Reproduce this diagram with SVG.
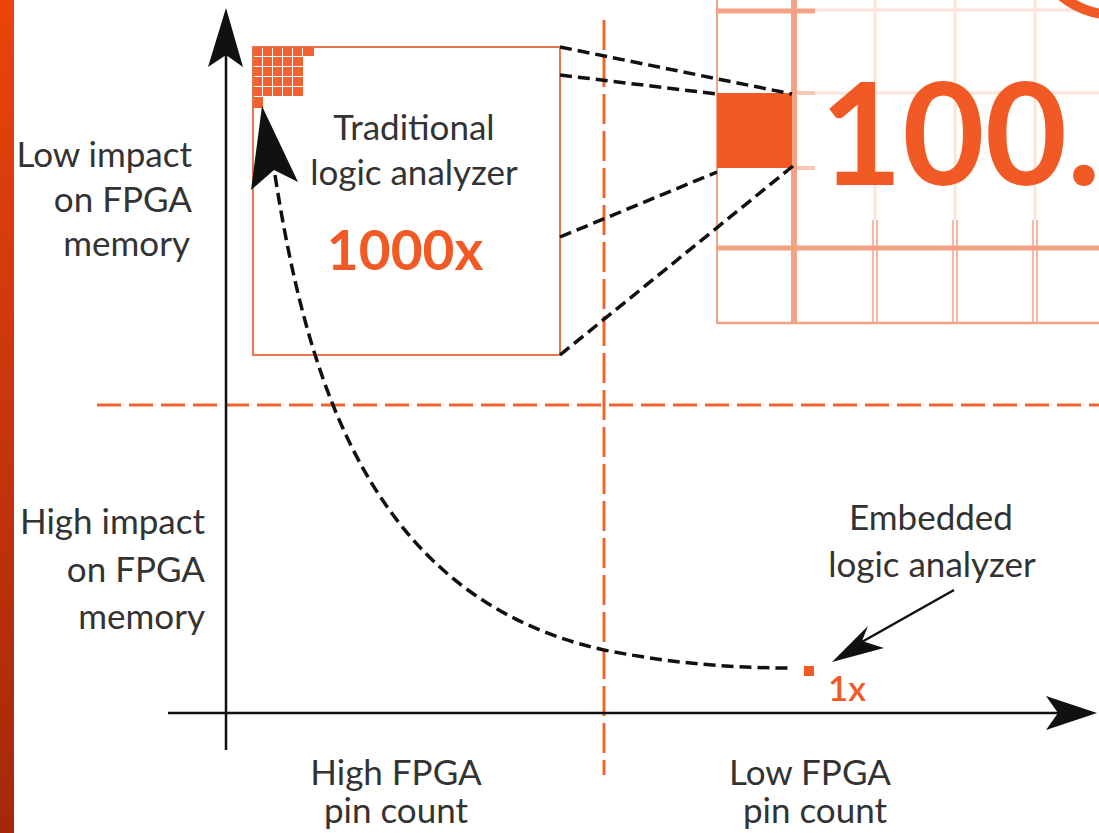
<svg xmlns="http://www.w3.org/2000/svg" width="1099" height="833" viewBox="0 0 1099 833">
<defs>
<linearGradient id="bar" x1="0" y1="0" x2="0" y2="1">
<stop offset="0" stop-color="#EA440B"/>
<stop offset="1" stop-color="#A5280A"/>
</linearGradient>
<style>
.lbl{font-family:Lato,"Liberation Sans",sans-serif;font-size:35px;fill:#333;}
.org{font-family:Lato,"Liberation Sans",sans-serif;fill:#F15A24;}
.grid{stroke:#F4A284;fill:none;}
.faint{stroke:#FCE4DA;fill:none;stroke-width:3;}
.zoom{stroke:#111;stroke-width:3.5;stroke-dasharray:12 6;fill:none;}
.odash{stroke:#EF6530;stroke-width:3;fill:none;}
.cell{fill:#F26130;}
</style>
</defs>
<rect width="1099" height="833" fill="#fff"/>
<rect x="0" y="0" width="14" height="833" fill="url(#bar)"/>

<g id="bg-grid">
<line class="faint" x1="815" y1="10" x2="1099" y2="10"/>
<line class="faint" x1="815" y1="93" x2="1099" y2="93"/>
<line class="faint" x1="875" y1="0" x2="875" y2="220"/>
<line class="faint" x1="955" y1="0" x2="955" y2="220"/>
<line class="faint" x1="1035" y1="0" x2="1035" y2="220"/>
<line class="grid" stroke-width="2" x1="717" y1="0" x2="717" y2="324"/>
<line class="grid" stroke-width="6" x1="794" y1="0" x2="794" y2="324"/>
<line class="grid" stroke-width="5" x1="717" y1="11" x2="815" y2="11"/>
<line class="grid" stroke-width="4" x1="794" y1="93" x2="815" y2="93" opacity="0.6"/>
<line class="grid" stroke-width="4" x1="794" y1="168" x2="815" y2="168" opacity="0.6"/>
<line class="grid" stroke-width="5" x1="717" y1="248" x2="1099" y2="248"/>
<line class="grid" stroke-width="2.5" x1="717" y1="323" x2="1099" y2="323"/>
<path class="grid" stroke-width="1.5" d="M873 220V323M877 220V323M953 220V323M957 220V323M1033 220V323M1037 220V323"/>
<circle cx="1115" cy="-70" r="85" fill="none" stroke="#F15A24" stroke-width="10"/>
<rect x="717" y="93" width="75" height="75" fill="#F15A24"/>
<text class="org" x="820" y="185" font-size="142" font-weight="bold">100.</text>
</g>

<g id="quadrants">
<line class="odash" x1="97" y1="405" x2="1099" y2="405" stroke-dasharray="24 8"/>
<line class="odash" x1="604" y1="20" x2="604" y2="775" stroke-dasharray="30 7"/>
</g>

<g id="axes">
<line x1="226" y1="40" x2="226" y2="750" stroke="#111" stroke-width="2.5"/>
<polygon points="226,8 243,67 226,55 208,67" fill="#111"/>
<line x1="168" y1="713" x2="1070" y2="713" stroke="#111" stroke-width="2.5"/>
<polygon points="1097,713 1046,730 1058,713 1046,696" fill="#111"/>
</g>

<g id="traditional">
<rect x="253" y="47" width="307" height="308" fill="none" stroke="#E8774F" stroke-width="2"/>
<g id="cells">
<rect class="cell" x="253" y="47" width="9" height="9"/><rect class="cell" x="263" y="47" width="9" height="9"/><rect class="cell" x="273" y="47" width="9" height="9"/><rect class="cell" x="283" y="47" width="9" height="9"/><rect class="cell" x="293" y="47" width="9" height="9"/><rect class="cell" x="303" y="47" width="11" height="9"/>
<rect class="cell" x="253" y="57" width="9" height="9"/><rect class="cell" x="263" y="57" width="9" height="9"/><rect class="cell" x="273" y="57" width="9" height="9"/><rect class="cell" x="283" y="57" width="9" height="9"/><rect class="cell" x="293" y="57" width="10" height="9"/>
<rect class="cell" x="253" y="67" width="9" height="9"/><rect class="cell" x="263" y="67" width="9" height="9"/><rect class="cell" x="273" y="67" width="9" height="9"/><rect class="cell" x="283" y="67" width="9" height="9"/><rect class="cell" x="293" y="67" width="10" height="9"/>
<rect class="cell" x="253" y="77" width="9" height="9"/><rect class="cell" x="263" y="77" width="9" height="9"/><rect class="cell" x="273" y="77" width="9" height="9"/><rect class="cell" x="283" y="77" width="9" height="9"/><rect class="cell" x="293" y="77" width="10" height="9"/>
<rect class="cell" x="253" y="87" width="9" height="9"/><rect class="cell" x="263" y="87" width="9" height="9"/><rect class="cell" x="273" y="87" width="9" height="9"/><rect class="cell" x="283" y="87" width="9" height="9"/><rect class="cell" x="293" y="87" width="10" height="9"/>
<rect class="cell" x="253" y="97" width="10" height="11"/>
</g>
<text class="lbl" x="414" y="140" text-anchor="middle">Traditional</text>
<text class="lbl" x="414" y="185" text-anchor="middle">logic analyzer</text>
<text class="org" x="405" y="270" font-size="55" font-weight="bold" text-anchor="middle">1000x</text>
</g>

<g id="embedded">
<rect x="804" y="666" width="10" height="10" fill="#F15A24"/>
<text class="org" x="847" y="701" font-size="35" font-weight="600" text-anchor="middle">1x</text>
<text class="lbl" x="931" y="530" text-anchor="middle">Embedded</text>
<text class="lbl" x="932" y="577" text-anchor="middle">logic analyzer</text>
</g>

<g id="axis-labels">
<text class="lbl" x="192" y="167" text-anchor="end">Low impact</text>
<text class="lbl" x="192" y="212" text-anchor="end">on FPGA</text>
<text class="lbl" x="190" y="256" text-anchor="end">memory</text>
<text class="lbl" x="205" y="534" text-anchor="end">High impact</text>
<text class="lbl" x="205" y="582" text-anchor="end">on FPGA</text>
<text class="lbl" x="205" y="629" text-anchor="end">memory</text>
<text class="lbl" x="396" y="785" text-anchor="middle">High FPGA</text>
<text class="lbl" x="396" y="823" text-anchor="middle">pin count</text>
<text class="lbl" x="810" y="785" text-anchor="middle">Low FPGA</text>
<text class="lbl" x="815" y="823" text-anchor="middle">pin count</text>
</g>

<g id="connectors">
<line class="zoom" x1="560" y1="47" x2="792" y2="94"/>
<line class="zoom" x1="560" y1="75" x2="717" y2="94"/>
<line class="zoom" x1="560" y1="237" x2="717" y2="172"/>
<line class="zoom" x1="560" y1="355" x2="793" y2="166"/>
<path class="zoom" d="M275 175 C310 400 380 600 604 650 C680 665 740 668 792 668"/>
<polygon points="262,106 298,182 274,170 251,190" fill="#111"/>
<line x1="954" y1="590" x2="860" y2="643" stroke="#111" stroke-width="2.5"/>
<polygon points="832,662 868,626 862,641 884,648" fill="#111"/>
</g>
</svg>
